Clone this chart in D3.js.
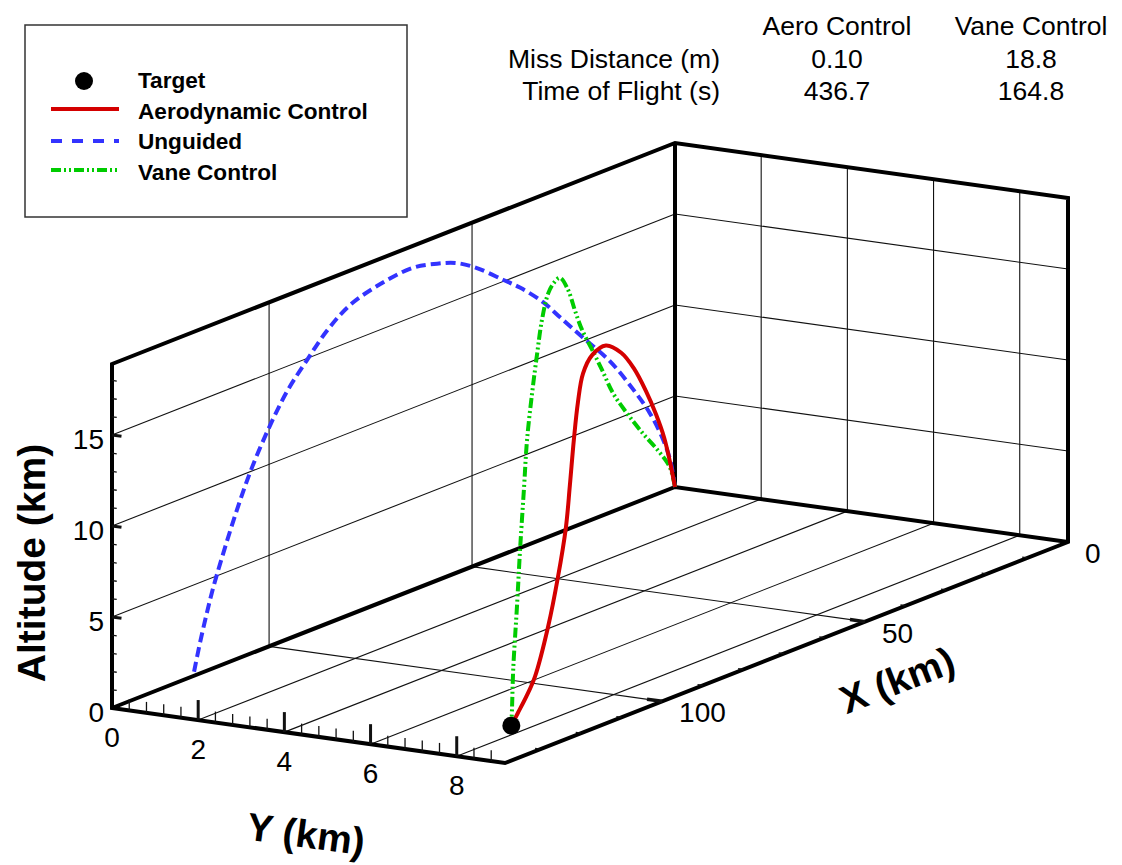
<!DOCTYPE html>
<html>
<head>
<meta charset="utf-8">
<script src="https://cdn.jsdelivr.net/npm/d3@7"></script>
<style>
  body { margin: 0; background: #fff; }
  text { font-family: "Liberation Sans", Arial, Helvetica, sans-serif; }
</style>
</head>
<body>
<svg id="chart" width="1122" height="865"></svg>
<script>
// axis ranges (km)
const xRange = [0, 138.7];
const yRange = [0, 9.12];
const zRange = [0, 18.9];

// tick labels
const xTicks = [0, 50, 100];
const yTicks = [0, 2, 4, 6, 8];
const zTicks = [0, 5, 10, 15];

// target position (km)
const targetX = 121.0, targetY = 7.6, targetZ = 0;

// unguided shot stays in the Y = 0 plane
const unguidedX = [0, 1.2, 3.0, 6.2, 10.4, 16.0, 22.7, 28.3, 32.5, 38.2, 42.4, 48.8, 53.7, 58.6, 64.6,
  72.7, 80.1, 85.7, 90.7, 95.3, 99.3, 104.2, 107.9, 111.6, 113.8, 115.3, 117.0, 118.7];
const unguidedY = [0, 0, 0, 0, 0, 0, 0, 0, 0, 0, 0, 0, 0, 0, 0, 0, 0, 0, 0, 0, 0, 0, 0, 0, 0, 0, 0, 0];
const unguidedZ = [0, 1.6, 2.9, 4.6, 6.3, 8.3, 10.2, 11.8, 13.0, 14.3, 15.1, 16.3, 17.0, 17.4, 17.7,
  17.5, 17.0, 16.1, 14.9, 13.7, 12.3, 10.2, 8.2, 5.9, 4.4, 3.2, 1.7, 0];

// aerodynamic control
const aeroX = [0, 3.7, 8.1, 14.0, 21.4, 30.3, 39.9, 51.0, 61.4, 68.0, 71.7, 74.7, 77.6, 80.6, 86.5,
  93.9, 103.5, 110.0, 116.0, 121.0];
const aeroY = [0, 0.23, 0.51, 0.88, 1.34, 1.90, 2.51, 3.20, 3.86, 4.27, 4.50, 4.69, 4.87, 5.06, 5.43,
  5.90, 6.50, 6.91, 7.28, 7.60];
const aeroZ = [0, 1.8, 3.6, 5.5, 7.6, 9.8, 11.7, 13.3, 13.9, 13.6, 12.4, 10.7, 8.5, 6.5, 4.4,
  2.5, 0.8, 0.4, 0.15, 0];

// vane control
const vaneX = [0, 3.0, 5.9, 13.3, 23.7, 35.5, 45.8, 54.0, 61.4, 68.7, 73.9, 79.1, 85.0, 89.4, 93.9,
  98.3, 102.0, 105.7, 109.4, 111.6, 114.6, 116.8, 119.7, 120.5, 121.0];
const vaneY = [0, 0.19, 0.37, 0.84, 1.49, 2.23, 2.88, 3.39, 3.86, 4.31, 4.64, 4.97, 5.34, 5.61, 5.90,
  6.17, 6.41, 6.64, 6.87, 7.01, 7.20, 7.34, 7.52, 7.57, 7.60];
const vaneZ = [0, 1.25, 2.0, 3.5, 5.5, 7.9, 10.1, 12.3, 14.2, 16.1, 17.7, 19.4, 20.7, 20.9, 20.8,
  19.8, 18.4, 16.6, 14.4, 12.1, 9.0, 6.3, 2.9, 1.0, 0];

const legendLabels = ["Target", "Aerodynamic Control", "Unguided", "Vane Control"];

const tableCols = ["Aero Control", "Vane Control"];
const tableRows = ["Miss Distance (m)", "Time of Flight (s)"];
const aeroValues = ["0.10", "436.7"];
const vaneValues = ["18.8", "164.8"];

const svg = d3.select("#chart");

// oblique view: each axis scale returns a screen offset vector
const origin = [675, 487];           // screen position of (0, 0, 0)
const xS = d3.scaleLinear().domain(xRange).range([[0, 0], [-563, 221]]);
const yS = d3.scaleLinear().domain(yRange).range([[0, 0], [393, 55]]);
const zS = d3.scaleLinear().domain(zRange).range([[0, 0], [0, -344]]);

function proj(x, y, z) {
  const a = xS(x), b = yS(y), c = zS(z);
  return [origin[0] + a[0] + b[0] + c[0], origin[1] + a[1] + b[1] + c[1]];
}

const X1 = xRange[1], Y1 = yRange[1], Z1 = zRange[1];

function seg(g, p, q, w, col) {
  const a = proj(...p), b = proj(...q);
  g.append("line")
    .attr("x1", a[0]).attr("y1", a[1])
    .attr("x2", b[0]).attr("y2", b[1])
    .attr("stroke", col || "#111")
    .attr("stroke-width", w);
}

// grid lines
const grid = svg.append("g");
[5, 10, 15].forEach(z => {
  seg(grid, [X1, 0, z], [0, 0, z], 1.1);      // left wall
  seg(grid, [0, 0, z], [0, Y1, z], 1.1);      // back wall
});
[50, 100].forEach(x => {
  seg(grid, [x, 0, 0], [x, 0, Z1], 1.1);
  seg(grid, [x, 0, 0], [x, Y1, 0], 1.1);
});
[2, 4, 6, 8].forEach(y => {
  seg(grid, [0, y, 0], [0, y, Z1], 1.1);
  seg(grid, [X1, y, 0], [0, y, 0], 1.1);
});

// box edges
const box = svg.append("g")
  .attr("fill", "none")
  .attr("stroke", "#000")
  .attr("stroke-width", 4)
  .attr("stroke-linejoin", "miter");
const edge = d3.line();
box.append("path").attr("d", edge([
  proj(X1, 0, Z1), proj(X1, 0, 0), proj(X1, Y1, 0), proj(0, Y1, 0),
  proj(0, Y1, Z1), proj(0, 0, Z1)]) + "Z");
box.append("path").attr("d", edge([proj(X1, 0, 0), proj(0, 0, 0), proj(0, Y1, 0)]));
box.append("path").attr("d", edge([proj(0, 0, 0), proj(0, 0, Z1)]));

// ticks
const ticks = svg.append("g");
d3.range(1, 19).forEach(z => {
  const major = zTicks.includes(z);
  seg(ticks, [X1, 0, z], [X1, major ? 0.22 : 0.11, z], major ? 3 : 1.3);
});
d3.range(1, 23).forEach(i => {
  const y = i * 0.4, major = i % 5 === 0;
  seg(ticks, [X1, y, 0], [X1, y, major ? 1.1 : 0.6], major ? 3 : 1.3);
});
d3.range(10, 139, 10).forEach(x => {
  const major = xTicks.includes(x);
  seg(ticks, [x, Y1, 0], [x, Y1 - (major ? 0.35 : 0.12), 0], major ? 3.5 : 1.3);
});

// tick labels
const lab = svg.append("g").attr("font-size", 28).attr("fill", "#000");
zTicks.forEach(z => {
  const p = proj(X1, 0, z);
  lab.append("text").attr("x", p[0] - 8).attr("y", p[1] + 14)
    .attr("text-anchor", "end").text(z);
});
yTicks.forEach(y => {
  const p = proj(X1, y, 0);
  lab.append("text").attr("x", p[0]).attr("y", p[1] + 39)
    .attr("text-anchor", "middle").text(y);
});
xTicks.forEach(x => {
  const p = proj(x, Y1, 0);
  lab.append("text").attr("x", p[0] + 17).attr("y", p[1] + 21)
    .attr("text-anchor", "start").text(x);
});

// axis titles
const titles = svg.append("g").attr("font-size", 39).attr("font-weight", "bold");
titles.append("text").attr("transform", "translate(45,563) rotate(-90)")
  .attr("text-anchor", "middle").text("Altitude (km)");
titles.append("text").attr("transform", "translate(306,834) rotate(7.7)")
  .attr("text-anchor", "middle").attr("dy", "0.35em").text("Y (km)");
titles.append("text").attr("transform", "translate(897,680) rotate(-21.3)")
  .attr("text-anchor", "middle").attr("dy", "0.35em").text("X (km)");

// trajectories
const path3d = d3.line().curve(d3.curveCatmullRom);
function track(xs, ys, zs) {
  return path3d(xs.map((x, i) => proj(x, ys[i], zs[i])));
}
const styles = {
  unguided: { color: "#3333ff", dash: "10,5" },
  aero: { color: "#d40000", dash: null },
  vane: { color: "#00cc00", dash: "10,3,2,3,2,3" }
};
const curves = svg.append("g").attr("fill", "none").attr("stroke-width", 4);
curves.append("path").attr("d", track(unguidedX, unguidedY, unguidedZ))
  .attr("stroke", styles.unguided.color).attr("stroke-dasharray", styles.unguided.dash);
curves.append("path").attr("d", track(vaneX, vaneY, vaneZ))
  .attr("stroke", styles.vane.color).attr("stroke-dasharray", styles.vane.dash);
curves.append("path").attr("d", track(aeroX, aeroY, aeroZ))
  .attr("stroke", styles.aero.color);

const tp = proj(targetX, targetY, targetZ);
svg.append("circle").attr("cx", tp[0]).attr("cy", tp[1]).attr("r", 9).attr("fill", "#000");

// legend
const leg = svg.append("g");
leg.append("rect").attr("x", 25).attr("y", 25).attr("width", 382).attr("height", 192)
  .attr("fill", "#fff").attr("stroke", "#333").attr("stroke-width", 1.5);
leg.append("circle").attr("cx", 84).attr("cy", 81).attr("r", 9).attr("fill", "#000");
[["aero", 109], ["unguided", 141], ["vane", 170]].forEach(([k, y]) => {
  leg.append("line").attr("x1", 51).attr("x2", 119).attr("y1", y).attr("y2", y)
    .attr("stroke", styles[k].color).attr("stroke-width", 4)
    .attr("stroke-dasharray", k === "unguided" ? "11,10" : styles[k].dash);
});
leg.selectAll("text.item").data(legendLabels).join("text")
  .attr("class", "item")
  .attr("x", 138).attr("y", (d, i) => 88 + i * 30.5)
  .attr("font-size", 22.6).attr("font-weight", "bold")
  .text(d => d);

// results table
const tab = svg.append("g").attr("font-size", 26.5);
const colX = [837, 1031];
tableCols.forEach((c, i) => {
  tab.append("text").attr("x", colX[i]).attr("y", 35).attr("text-anchor", "middle").text(c);
});
tableRows.forEach((r, j) => {
  const y = 68 + j * 32;
  tab.append("text").attr("x", 720).attr("y", y).attr("text-anchor", "end").text(r);
  tab.append("text").attr("x", colX[0]).attr("y", y).attr("text-anchor", "middle").text(aeroValues[j]);
  tab.append("text").attr("x", colX[1]).attr("y", y).attr("text-anchor", "middle").text(vaneValues[j]);
});
</script>
</body>
</html>
